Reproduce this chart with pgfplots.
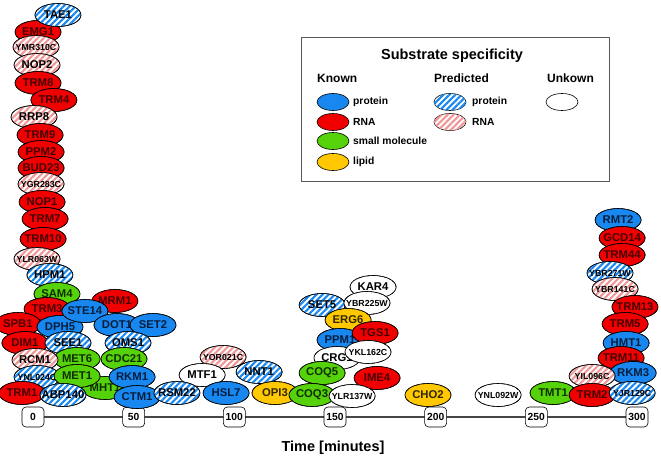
\documentclass[border=0pt]{standalone}
\usepackage{pgfplots}
\pgfplotsset{compat=1.18}
\usepackage{fontspec}
\setmainfont{Liberation Sans}
\usetikzlibrary{shapes.geometric,patterns.meta}

\definecolor{fP}{RGB}{25,135,240}
\definecolor{sP}{RGB}{25,135,240}
\definecolor{tP}{RGB}{5,30,60}
\definecolor{fR}{RGB}{240,0,0}
\colorlet{sR}{fR}
\definecolor{tR}{RGB}{70,0,0}
\definecolor{fS}{RGB}{85,210,10}
\colorlet{sS}{fS}
\definecolor{tS}{RGB}{15,45,0}
\definecolor{fL}{RGB}{255,200,0}
\colorlet{sL}{fL}
\definecolor{tL}{RGB}{50,40,0}
\colorlet{fPP}{white}
\definecolor{sPP}{RGB}{25,135,240}
\colorlet{tPP}{black}
\colorlet{fPR}{white}
\definecolor{sPR}{RGB}{240,150,150}
\colorlet{tPR}{black}
\colorlet{fU}{white}
\colorlet{sU}{white}
\colorlet{tU}{black}
\definecolor{axisgray}{RGB}{70,70,70}

\newcommand\fsn{\fontsize{11.3}{13}\selectfont\bfseries}
\newcommand\fss{\fontsize{8.8}{10}\selectfont\bfseries}

\tikzset{
  mt/.style={ellipse, draw=black, line width=0.6pt, inner sep=0pt,
    minimum width=46pt, minimum height=23pt},
  lg/.style={ellipse, draw=black, line width=0.6pt, inner sep=0pt,
    minimum width=32pt, minimum height=17pt},
  stripes/.style={postaction={pattern={Lines[angle=45,distance=4.3pt,line width=2.1pt]}, pattern color=#1}}
}

\begin{document}
\begin{tikzpicture}
\begin{axis}[
  scale only axis, width=661pt, height=459pt,
  xmin=-16.391, xmax=311.925, ymin=0, ymax=459, y dir=reverse,
  hide axis, clip=false,
]
\coordinate (TL) at (axis cs:-16.391,0);
\coordinate (BR) at (axis cs:311.925,459);

\addplot[line width=2.2pt, color=axisgray, mark=none] coordinates {(0,417) (300,417)};

\addplot[only marks, mark=*, mark size=0pt, mark options={draw=none,fill=none},
  point meta=explicit symbolic,
  nodes near coords={\pgfplotspointmeta},
  every node near coord/.style={anchor=center, draw=black, line width=0.6pt,
    fill=white, rounded corners=4pt, minimum width=22pt, minimum height=20pt,
    inner sep=1.5pt, font=\fontsize{10.3}{12}\selectfont\bfseries},
] table[x=x, y=y, meta=l] {
x y l
0 417 0
50 417 50
100 417 100
150 417 150
200 417 200
250 417 250
300 417 300
};

% x = time [minutes], y = vertical stacking position (pixels from top)
\addplot[only marks, mark=*, mark size=0pt, mark options={draw=none,fill=none},
  point meta=explicit symbolic,
  visualization depends on={value \thisrow{cls}\as\mycls},
  visualization depends on={value \thisrow{fsz}\as\myfs},
  nodes near coords={\makebox[0pt]{\csname fs\myfs\endcsname\pgfplotspointmeta}},
  every node near coord/.style={mt, anchor=center, fill=f\mycls, text=t\mycls,
    stripes=s\mycls},
] table[x=x, y=y, meta=lab] {
x y lab cls fsz
2.5 32 EMG1 R n
12.4 15 TAE1 PP n
1.5 47 YMR310C PR s
2.0 65 NOP2 PR n
2.5 83 TRM8 R n
10.4 100 TRM4 R n
0.5 117 RRP8 PR n
3.5 135 TRM9 R n
4.0 152 PPM2 R n
4.0 168 BUD23 R n
4.0 184 YGR283C PR s
4.5 202 NOP1 R n
6.0 219 TRM7 R n
5.0 239 TRM10 R n
2.0 259 YLR063W PR s
8.4 275 HPM1 PP n
11.9 294 SAM4 S n
40.7 301 MRM1 R n
7.0 309 TRM3 R n
-7.5 324 SPB1 R n
13.4 327 DPH5 P n
25.8 311 STE14 P n
41.7 325 DOT1 P n
59.6 325 SET2 P n
-4.0 343 DIM1 R n
17.4 343 SEE1 PP n
47.2 343 OMS1 PP n
21.9 359 MET6 S n
45.2 359 CDC21 S n
1.0 360 RCM1 PR n
35.8 388 MHT1 S n
2.0 377 YNL024C PP s
21.9 376 MET1 S n
49.2 377 RKM1 P n
-5.5 393 TRM1 R n
14.9 395 ABP140 PP n
51.7 397 CTM1 P n
94.4 357 YOR021C PR s
84.0 375 MTF1 U n
71.5 393 RSM22 PP n
112.3 372 NNT1 PP n
95.9 393 HSL7 P n
120.2 393 OPI3 L n
168.9 287 KAR4 U n
143.6 305 SET5 PP n
165.9 303 YBR225W U s
156.5 320 ERG6 L n
152.5 340 PPM1 P n
169.9 333 TGS1 R n
151.0 358 CRG1 U n
166.4 352 YKL162C U s
143.6 373 COQ5 S n
170.9 378 IME4 R n
138.6 395 COQ3 S n
158.5 396 YLR137W U s
196.2 395 CHO2 L n
231.0 395 YNL092W U s
290.6 220 RMT2 P n
292.6 238 GCD14 R n
292.6 255 TRM44 R n
286.6 273 YBR271W PP s
289.1 289 YBR141C PR s
299.0 307 TRM13 R n
294.1 324 TRM5 R n
294.6 343 HMT1 P n
292.1 358 TRM11 R n
298.1 373 RKM3 P n
277.7 376 YIL096C PR s
258.3 393 TMT1 S n
277.7 395 TRM2 R n
297.6 393 YJR129C PP s
};
\end{axis}

\begin{scope}[shift={(TL)}, x=1pt, y=-1pt]
  \draw[line width=0.8pt, draw=black!65] (301,37) rectangle (609,181);
  \node[font=\fontsize{14.5}{16}\selectfont\bfseries] at (452,56) {Substrate specificity};
  \node[anchor=west, inner sep=0pt, font=\fontsize{12}{14}\selectfont\bfseries] at (317,78) {Known};
  \node[anchor=west, inner sep=0pt, font=\fontsize{12}{14}\selectfont\bfseries] at (434,78) {Predicted};
  \node[anchor=west, inner sep=0pt, font=\fontsize{12}{14}\selectfont\bfseries] at (547,78) {Unkown};
  \node[lg, fill=fP] at (333,102) {};
  \node[lg, fill=fR] at (333,122) {};
  \node[lg, fill=fS] at (333,141) {};
  \node[lg, fill=fL] at (333,162) {};
  \node[lg, fill=white, stripes=sPP] at (450,102) {};
  \node[lg, fill=white, stripes=sPR] at (450,122) {};
  \node[lg, fill=white] at (562,102) {};
  \begin{scope}[every node/.style={anchor=west, inner sep=0pt, font=\fontsize{10.3}{12}\selectfont\bfseries}]
    \node at (353,102) {protein};
    \node at (353,122) {RNA};
    \node at (353,141) {small molecule};
    \node at (353,162) {lipid};
    \node at (472,102) {protein};
    \node at (472,122) {RNA};
  \end{scope}
  \node[font=\fontsize{14.5}{16}\selectfont\bfseries] at (333,448) {Time [minutes]};
\end{scope}

\pgfresetboundingbox
\path (TL) rectangle (BR);
\end{tikzpicture}
\end{document}
